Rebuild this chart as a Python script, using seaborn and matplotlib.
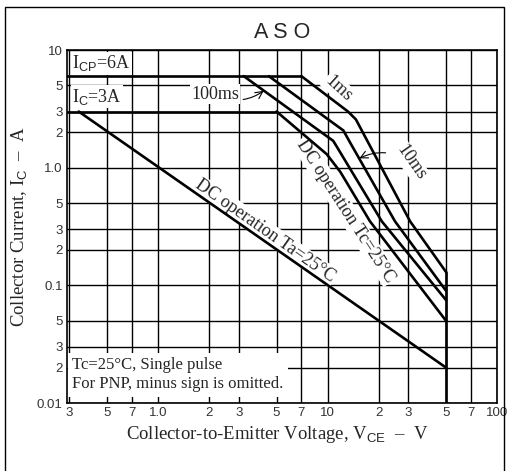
import matplotlib
matplotlib.use("Agg")
import numpy as np
import pandas as pd
import seaborn as sns
import matplotlib.pyplot as plt
from matplotlib.ticker import NullLocator
from matplotlib.patches import Rectangle

# ---------------- data ----------------
X_LEFT = 0.29
icp_v = [X_LEFT, 7.0];   icp_a = [6.0, 6.0]
ic_v = [X_LEFT, 5.0];    ic_a = [3.0, 3.0]
ms1_v = [7.0, 13.2, 14.7, 30.7, 50.0];   ms1_a = [6.0, 3.0, 2.57, 0.35, 0.13]
ms10_v = [4.5, 12.4, 13.6, 25.0, 50.0];  ms10_a = [6.0, 2.07, 1.63, 0.35, 0.09]
ms100_v = [3.2, 10.8, 11.3, 20.9, 50.0]; ms100_a = [6.0, 1.69, 1.52, 0.35, 0.075]
dctc_v = [5.0, 9.9, 11.9, 17.8, 50.0];   dctc_a = [3.0, 1.30, 0.92, 0.35, 0.05]
dcta_v = [0.34, 50.0];   dcta_a = [3.0, 0.02]
vmax_v = [50.0, 50.0];   vmax_a = [0.13, 0.01]

xticks = [0.3, 0.5, 0.7, 1, 2, 3, 5, 7, 10, 20, 30, 50, 70, 100]
xticklabels = ["3", "5", "7", "1.0", "2", "3", "5", "7", "10", "2", "3", "5", "7", "100"]
yticks = [0.01, 0.02, 0.03, 0.05, 0.1, 0.2, 0.3, 0.5, 1, 2, 3, 5, 10]
yticklabels = ["0.01", "2", "3", "5", "0.1", "2", "3", "5", "1.0", "2", "3", "5", "10"]

series = {
    "ICP": (icp_v, icp_a), "IC": (ic_v, ic_a), "1ms": (ms1_v, ms1_a),
    "10ms": (ms10_v, ms10_a), "100ms": (ms100_v, ms100_a),
    "DC Tc": (dctc_v, dctc_a), "DC Ta": (dcta_v, dcta_a), "Vmax": (vmax_v, vmax_a),
}
rows = []
for name, (vs, as_) in series.items():
    for i, (v, a) in enumerate(zip(vs, as_)):
        rows.append({"series": name, "order": i, "V": v, "A": a})
df = pd.DataFrame(rows)

# ---------------- style ----------------
sns.set_style("white")
plt.rcParams["font.family"] = ["Liberation Serif", "DejaVu Serif"]
plt.rcParams["mathtext.fontset"] = "custom"
plt.rcParams["mathtext.rm"] = "Liberation Serif"
plt.rcParams["mathtext.sf"] = "Liberation Sans"

fig = plt.figure(figsize=(5.09, 4.71), dpi=100)
ax = fig.add_axes([67 / 509, 1 - 403 / 471, 430 / 509, 353 / 471])

sns.lineplot(data=df, x="V", y="A", units="series", estimator=None, sort=False,
             color="black", lw=1.9, ax=ax, zorder=4)

ax.set_xscale("log")
ax.set_yscale("log")
ax.set_xlim(X_LEFT, 100)
ax.set_ylim(0.01, 10)
ax.set_xticks(xticks)
ax.set_xticklabels(xticklabels, fontfamily="Liberation Sans", fontsize=9.5, color="#333333")
ax.set_yticks(yticks)
ax.set_yticklabels(yticklabels, fontfamily="Liberation Sans", fontsize=9.5, color="#333333")
ax.xaxis.set_minor_locator(NullLocator())
ax.yaxis.set_minor_locator(NullLocator())
ax.tick_params(length=0, pad=3)
ax.set_axisbelow(True)
ax.grid(True, which="major", color="black", lw=1.0)
for s in ax.spines.values():
    s.set_color("black")
    s.set_linewidth(1.2)

ax.set_xlabel(r"Collector-to-Emitter Voltage, V$_\mathsf{CE}$  –  V", fontsize=13.5)
ax.xaxis.set_label_coords(0.49, -0.06)
ax.set_ylabel(r"Collector Current, I$_\mathsf{C}$  –  A", fontsize=13.5)
ax.yaxis.set_label_coords(-0.085, 0.5)

fig.text(282 / 509, 1 - 33 / 471, "A S O", fontfamily="Liberation Sans", fontsize=15.5,
         ha="center", va="center")

box = dict(facecolor="white", edgecolor="none", pad=1.0)
FS = 13
tk = dict(fontsize=FS, zorder=3, bbox=box)

ax.text(0.012, 0.962, r"I$_\mathsf{CP}$=6A", transform=ax.transAxes, ha="left", va="center", **tk)
ax.text(0.012, 0.868, r"I$_\mathsf{C}$=3A", transform=ax.transAxes, ha="left", va="center", **tk)

ax.annotate("100ms", xy=(4.2, 4.5), xytext=(3.0, 4.2), ha="right", va="center",
            fontsize=FS, zorder=3, bbox=box,
            arrowprops=dict(arrowstyle="->", lw=0.8, color="black",
                            connectionstyle="arc3,rad=0.3", shrinkA=2, shrinkB=0))
ax.text(11.6, 4.7, "1ms", rotation=-42, ha="center", va="center", **tk)
ax.annotate("10ms", xy=(15.4, 1.2), xytext=(31.0, 1.1), ha="center", va="center",
            rotation=-55, fontsize=FS, zorder=3, bbox=box,
            arrowprops=dict(arrowstyle="->", lw=0.8, color="black",
                            connectionstyle="arc3,rad=0.3", shrinkA=5, shrinkB=0))
ax.text(12.8, 0.43, "DC operation Tc=25°C", rotation=-57, ha="center", va="center", **tk)
ax.text(4.3, 0.29, "DC operation Ta=25°C", rotation=-35, ha="center", va="center", **tk)

ax.text(0.012, 0.03, "Tc=25°C, Single pulse\nFor PNP, minus sign is omitted.",
        transform=ax.transAxes, ha="left", va="bottom", fontsize=12, zorder=3,
        linespacing=1.3,
        bbox=dict(facecolor="white", edgecolor="none", pad=3.0))

fig.patches.append(Rectangle((5 / 509, -0.02), 499 / 509, 1.02 - 7 / 471,
                             transform=fig.transFigure, fill=False,
                             edgecolor="black", lw=1.0))

fig.savefig("out.png", dpi=100)
